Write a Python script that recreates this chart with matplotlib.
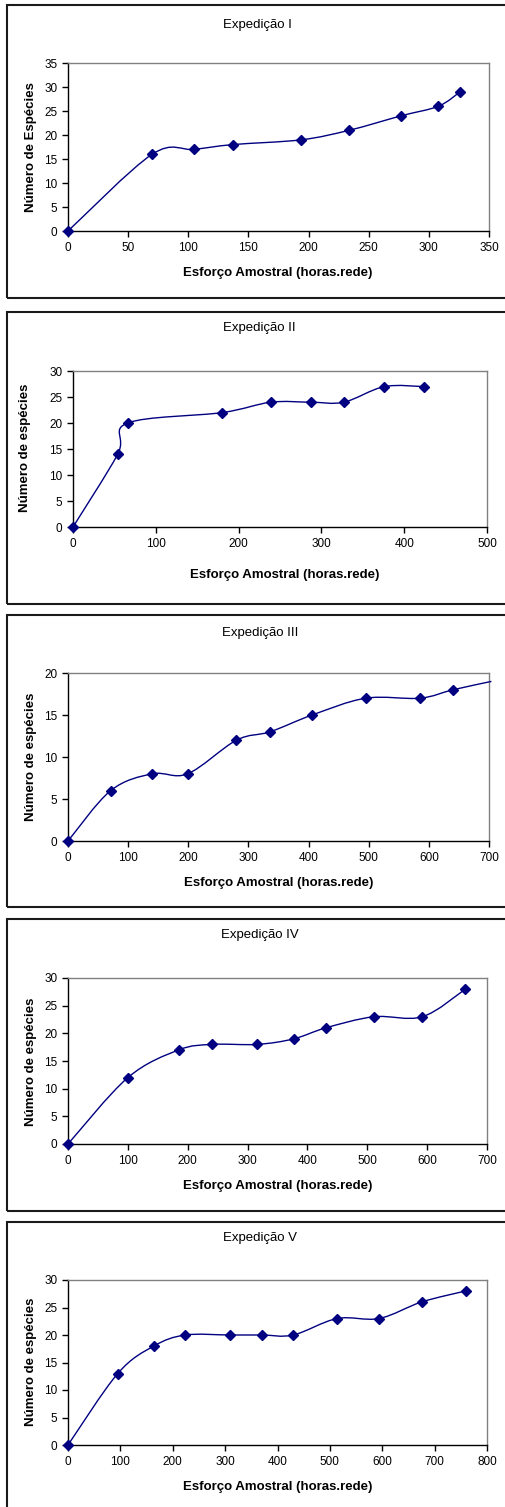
import matplotlib
matplotlib.use("Agg")
import matplotlib.pyplot as plt
import numpy as np
from matplotlib.path import Path
from matplotlib.patches import PathPatch, Rectangle

plt.rcParams['font.family'] = ['Liberation Sans', 'DejaVu Sans']

# Species accumulation data per expedition (sampling effort in net-hours, species count)
exp1_x = [0, 70, 105, 137, 194, 234, 277, 308, 326]
exp1_y = [0, 16, 17, 18, 19, 21, 24, 26, 29]

exp2_x = [0, 54, 66, 180, 239, 287, 327, 376, 424]
exp2_y = [0, 14, 20, 22, 24, 24, 24, 27, 27]

exp3_x = [0, 71, 140, 199, 280, 336, 406, 495, 585, 640, 704]
exp3_y = [0, 6, 8, 8, 12, 13, 15, 17, 17, 18, 19]

exp4_x = [0, 100, 185, 241, 316, 377, 431, 511, 592, 664]
exp4_y = [0, 12, 17, 18, 18, 19, 21, 23, 23, 28]

exp5_x = [0, 95, 164, 224, 309, 370, 430, 514, 594, 675, 759]
exp5_y = [0, 13, 18, 20, 20, 20, 20, 23, 23, 26, 28]

titles = ["Expedição I", "Expedição II", "Expedição III", "Expedição IV", "Expedição V"]
ylabels = ["Número de Espécies"] + ["Número de espécies"] * 4
xlabel = "Esforço Amostral (horas.rede)"
xmax = [350, 500, 700, 700, 800]
xstep = [50, 100, 100, 100, 100]
ymax = [35, 30, 20, 30, 30]
ystep = [5, 5, 5, 5, 5]

series = [(exp1_x, exp1_y), (exp2_x, exp2_y), (exp3_x, exp3_y),
          (exp4_x, exp4_y), (exp5_x, exp5_y)]

W, H = 506, 1507
fig = plt.figure(figsize=(W / 100, H / 100), dpi=100)

# Layout in pixels: plot area (left, right, top, bottom), frame (top, bottom)
plot_px = [(68, 489, 63, 231), (73, 487, 371, 527), (68, 489, 673, 841),
           (68, 487, 978, 1144), (68, 487, 1280, 1445)]
frame_px = [(5, 298), (312, 604), (615, 907), (919, 1211), (1222, 1520)]
title_px = [(257, 25), (259, 328), (260, 633), (260, 935), (260, 1238)]
xlab_px = [(278, 273), (285, 575), (279, 883), (278, 1186), (278, 1487)]
ylab_px = [(31, 147), (25, 448), (31, 757), (31, 1062), (31, 1362)]

navy = "#000080"


def smooth_path(x, y):
    """Cubic Bezier path through the points (Catmull-Rom style smoothing)."""
    pts = np.column_stack([x, y]).astype(float)
    n = len(pts)
    verts = [pts[0]]
    codes = [Path.MOVETO]
    for i in range(n - 1):
        p0 = pts[i - 1] if i > 0 else pts[i]
        p1 = pts[i]
        p2 = pts[i + 1]
        p3 = pts[i + 2] if i + 2 < n else pts[i + 1]
        c1 = p1 + (p2 - p0) / 6.0
        c2 = p2 - (p3 - p1) / 6.0
        verts += [c1, c2, p2]
        codes += [Path.CURVE4] * 3
    return Path(verts, codes)


def fx(px):
    return px / W


def fy(py):
    return 1 - py / H


for k in range(5):
    l, r, t, b = plot_px[k]
    ax = fig.add_axes([fx(l), fy(b), (r - l) / W, (b - t) / H])
    x, y = series[k]

    patch = PathPatch(smooth_path(x, y), facecolor="none", edgecolor=navy,
                      lw=1.0, transform=ax.transData, clip_on=False, zorder=3)
    ax.add_patch(patch)
    inside = [i for i, v in enumerate(x) if v <= xmax[k]]
    ax.plot(x, y, linestyle="none", marker="D", markersize=5,
            color=navy, markevery=inside, clip_on=False, zorder=4)

    ax.set_xlim(0, xmax[k])
    ax.set_ylim(0, ymax[k])
    ax.set_xticks(np.arange(0, xmax[k] + 1, xstep[k]))
    ax.set_yticks(np.arange(0, ymax[k] + 1, ystep[k]))
    ax.tick_params(direction="out", length=4, width=1, labelsize=8.5,
                   colors="black")
    ax.tick_params(axis="x", pad=4)
    ax.tick_params(axis="y", pad=3.5)
    for side in ("left", "bottom"):
        ax.spines[side].set_color("black")
        ax.spines[side].set_linewidth(1.0)
    for side in ("top", "right"):
        ax.spines[side].set_color("#808080")
        ax.spines[side].set_linewidth(1.0)

    ft, fb = frame_px[k]
    fig.patches.append(Rectangle((fx(7), fy(fb)), 1.2, (fb - ft) / H,
                                 transform=fig.transFigure, fill=False,
                                 edgecolor="#1a1a1a", lw=1.5))

    tx, ty = title_px[k]
    fig.text(fx(tx), fy(ty), titles[k], ha="center", va="center", fontsize=9.5)
    lx, ly = xlab_px[k]
    fig.text(fx(lx), fy(ly), xlabel, ha="center", va="center",
             fontsize=9.5, fontweight="bold")
    yx, yy = ylab_px[k]
    fig.text(fx(yx), fy(yy), ylabels[k], ha="center", va="center",
             fontsize=9.5, fontweight="bold", rotation=90)

fig.savefig("out.png", dpi=100)
